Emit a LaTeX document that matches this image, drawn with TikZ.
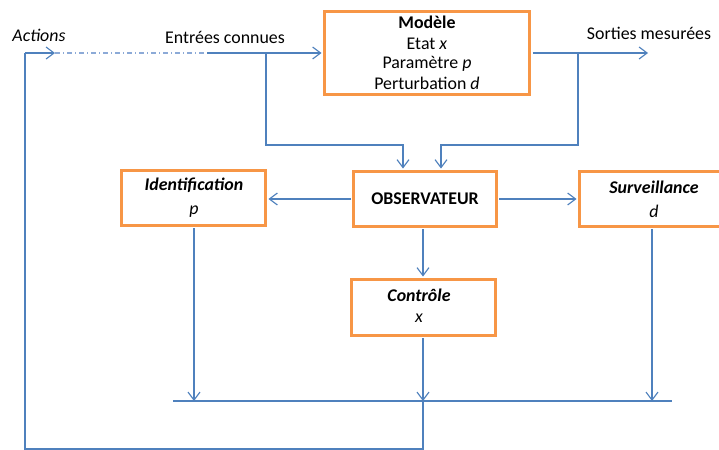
\documentclass[tikz,border=0pt]{standalone}
\usepackage{fontspec}
\setmainfont{Carlito}
\usetikzlibrary{arrows.meta}
\definecolor{lnblue}{RGB}{79,129,189}
\definecolor{lnblue2}{RGB}{140,170,215}
\definecolor{boxorange}{RGB}{247,150,70}
\begin{document}
\begin{tikzpicture}[x=0.75pt,y=-0.75pt,
  box/.style={draw=boxorange,line width=2.25pt,fill=white,inner sep=0pt,minimum height=41.25pt},
  conn/.style={draw=lnblue,line width=0.85pt},
  arr/.style={conn,-{Straight Barb[length=6pt,width=9pt]}},
  arrb/.style={arr,shorten >=1.1pt,shorten <=1.1pt},
  txt/.style={inner sep=0pt,font=\fontsize{13.4}{15}\selectfont},
  dashdot/.style={draw=lnblue2,line width=0.85pt,dash pattern=on 4pt off 2pt on 1pt off 2pt}]
\useasboundingbox (0,0) rectangle (719,450);

% boxes
\node[box,minimum width=154.1pt,minimum height=62.25pt] (model) at (427.25,53) {};
\node[box,minimum width=107.25pt] (obs) at (425,199) {};
\node[box,minimum width=108pt] (ident) at (193.5,198) {};
\node[box,minimum width=113.25pt] (surv) at (655,198.5) {};
\node[box,minimum width=108pt,minimum height=42pt] (ctrl) at (423.5,307.5) {};

% texts
\node[txt] (tmod) at (427,22) {\textbf{Modèle}};
\node[txt] (tetat) at (427,44) {Etat \textit{x}};
\node[txt] (tpar) at (427,63.5) {Paramètre \textit{p}};
\node[txt] (tpert) at (427,83) {Perturbation \textit{d}};
\node[txt] (tobs) at (425,199) {\textbf{OBSERVATEUR}};
\node[txt] (tid) at (194,185) {\textbf{\textit{Identification}}};
\node[txt] (tidp) at (194,212) {\textit{p}};
\node[txt] (tsurv) at (654,187) {\textbf{\textit{Surveillance}}};
\node[txt] (tsurvd) at (654,211) {\textit{d}};
\node[txt] (tctrl) at (419,295) {\textbf{\textit{Contrôle}}};
\node[txt] (tctrlx) at (419,318) {\textit{x}};
\node[txt] (tent) at (225,37) {Entrées connues};
\node[txt] (tsort) at (649,33) {Sorties mesurées};
\node[txt] (tact) at (39,35) {\textit{Actions}};

% coordinates
\coordinate (actL) at (25,53);
\coordinate (actA) at (55,53);
\coordinate (ecS) at (207,53);
\coordinate (brL) at (266,53);
\coordinate (kL) at (403,145);
\coordinate (brR) at (578,53);
\coordinate (kR) at (441,145);
\coordinate (outE) at (648,53);
\coordinate (busL) at (173,401);
\coordinate (busR) at (672,401);
\coordinate (xI) at (194,0);
\coordinate (xS) at (652,0);
\coordinate (xC) at (423,0);
\coordinate (botL) at (25,449);

% connectors
\draw[arr] (actL) -- (actA);
\draw[dashdot] (actA) -- (ecS);
\draw[arrb,shorten <=0pt] (ecS) -- (model.west);
\draw[arrb,shorten <=0pt] (brL) |- (kL) -- (obs.north -| kL);
\draw[arrb,shorten <=0pt] (brR) |- (kR) -- (obs.north -| kR);
\draw[arr,shorten <=1.1pt] (model.east) -- (outE);
\draw[arrb] (obs.west) -- (obs.west -| ident.east);
\draw[arrb] (obs.east) -- (obs.east -| surv.west);
\draw[arrb] (obs.south -| xC) -- (ctrl.north -| xC);
\draw[conn] (busL) -- (busR);
\draw[arr,shorten <=1.1pt] (ident.south -| xI) -- (busL -| xI);
\draw[arr,shorten <=1.1pt] (surv.south -| xS) -- (busL -| xS);
\draw[arr,shorten <=1.1pt] (ctrl.south -| xC) -- (busL -| xC);
\draw[conn] (busL -| xC) -- (botL -| xC) -- (botL) -- (actL);
\end{tikzpicture}
\end{document}
